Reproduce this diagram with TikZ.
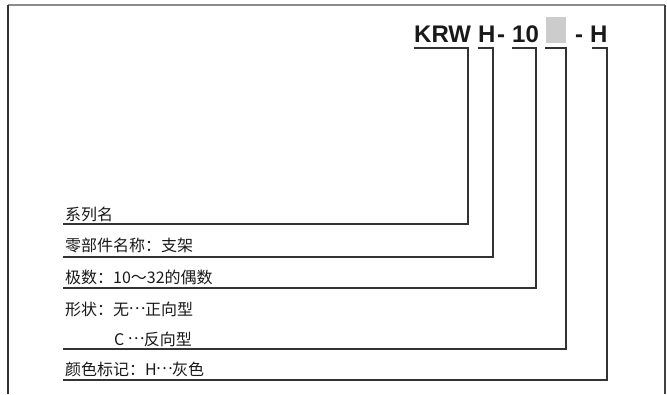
\documentclass[tikz,border=0pt]{standalone}
\usepackage{fontspec}
\setmainfont{Liberation Sans}
\newfontfamily\cjk{Noto Sans CJK SC}
\newcommand{\mdots}[1][1em]{\makebox[#1]{\raisebox{0.32em}{…}}}
\begin{document}
\begin{tikzpicture}[x=1pt,y=-1pt,
  ln/.style={draw=black!80,line width=1.1pt},
  hdr/.style={anchor=base west,inner sep=0pt,font=\fontsize{24}{24}\selectfont\bfseries,text=black!90},
  lbl/.style={anchor=base west,inner sep=0pt,font=\cjk\fontsize{16}{16}\selectfont,text=black!90}]
\useasboundingbox (0,0) rectangle (667,394);
% frame
\draw[draw=black!45,line width=1.2pt] (8,5) -- (665,5);
\draw[draw=black!80,line width=1.2pt] (8,5) -- (8,394);
\draw[draw=black!75,line width=1.2pt] (665,5) -- (665,394);
% header
\node[hdr] (krw) at (414,42) {KRW};
\node[hdr] (h1) at (478,42) {H};
\node[hdr] (d1) at (497,42) {-};
\node[hdr] (ten) at (512,42) {10};
\node[draw=none,fill=black!20,minimum width=20pt,minimum height=26pt,inner sep=0pt,anchor=north west] (box) at (546,17) {};
\node[hdr] (d2) at (575,42) {-};
\node[hdr] (h2) at (590,42) {H};
% underline coordinates
\coordinate (u1s) at (414,48); \coordinate (u1e) at (468,48);
\coordinate (u2s) at (478,48); \coordinate (u2e) at (493,48);
\coordinate (u3s) at (512,48); \coordinate (u3e) at (536,48);
\coordinate (u4s) at (545,48); \coordinate (u4e) at (566,48);
\coordinate (u5s) at (592,48); \coordinate (u5e) at (607,48);
\coordinate (e1) at (63,224);
\coordinate (e2) at (63,257);
\coordinate (e3) at (63,288);
\coordinate (e4) at (63,349);
\coordinate (e5) at (63,380);
\draw[ln] (u1s) -- (u1e) |- (e1);
\draw[ln] (u2s) -- (u2e) |- (e2);
\draw[ln] (u3s) -- (u3e) |- (e3);
\draw[ln] (u4s) -- (u4e) |- (e4);
\draw[ln] (u5s) -- (u5e) |- (e5);
% labels
\node[lbl] (t1) at (65,220) {系列名};
\node[lbl] (t2) at (65,251) {零部件名称：支架};
\node[lbl] (t3) at (65,283) {极数：10～32的偶数};
\node[lbl] (t4) at (65,315) {形状：无\mdots 正向型};
\node[lbl] (t5) at (114,345) {C \mdots 反向型};
\node[lbl] (t6) at (65,375) {颜色标记：H\mdots[0.95em]灰色};
\end{tikzpicture}
\end{document}
